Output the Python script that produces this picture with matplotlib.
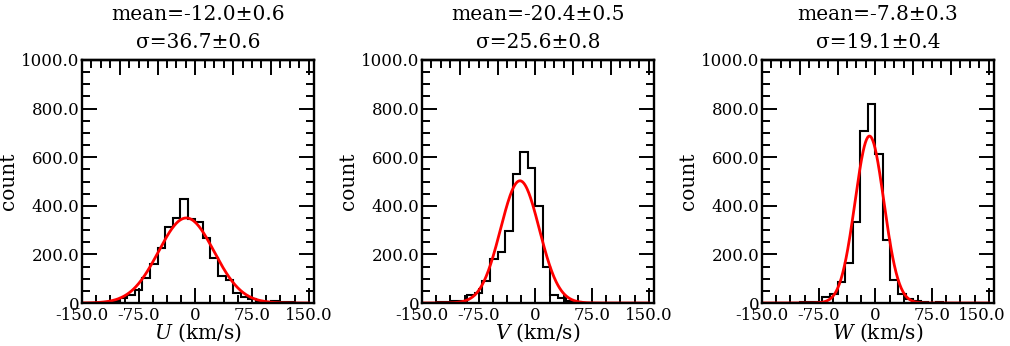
import numpy as np
import matplotlib.pyplot as plt
from matplotlib.ticker import FixedLocator, MultipleLocator
from matplotlib.transforms import ScaledTranslation

plt.rcParams['font.family'] = 'DejaVu Serif'
plt.rcParams['mathtext.fontset'] = 'dejavuserif'

# --- data ---
bin_edges = np.arange(-150, 151, 10)

u_counts = [0, 1, 2, 4, 8, 22, 32, 55, 102, 161, 226, 314, 348, 430, 346,
            335, 268, 185, 113, 95, 40, 26, 15, 8, 5, 9, 5, 4, 2, 0]
v_counts = [0, 1, 3, 5, 7, 10, 33, 43, 89, 182, 211, 298, 531, 623, 554,
            400, 149, 33, 19, 8, 3, 1, 0, 0, 0, 0, 0, 0, 0, 0]
w_counts = [0, 0, 1, 1, 2, 4, 3, 6, 23, 36, 88, 166, 332, 707, 819,
            613, 258, 95, 36, 16, 7, 4, 2, 6, 1, 0, 0, 0, 0, 0]

# gaussian fits: mean, sigma, peak height
fit_mean = [-12.0, -20.4, -7.8]
fit_sigma = [36.7, 25.6, 19.1]
fit_peak = [350, 503, 687]

mean_txt = ['mean=-12.0\u00b10.6', 'mean=-20.4\u00b10.5', 'mean=-7.8\u00b10.3']
sigma_txt = ['\u03c3=36.7\u00b10.6', '\u03c3=25.6\u00b10.8', '\u03c3=19.1\u00b10.4']
x_names = ['$U$ (km/s)', '$V$ (km/s)', '$W$ (km/s)']

x_tick_vals = [-150, -75, 0, 75, 150]
x_tick_labels = ['-150.0', '-75.0', '0', '75.0', '150.0']
y_tick_vals = [0, 200, 400, 600, 800, 1000]
y_tick_labels = ['0', '200.0', '400.0', '600.0', '800.0', '1000.0']

# --- layout ---
W, H = 1010, 346
fig = plt.figure(figsize=(W / 100, H / 100), dpi=100)
lefts = [82, 422, 762]
ax_w, ax_h, ax_bottom = 232, 243, 43

LW_AX = 1.7
TICK_FS = 12
TEXT_FS = 14.5

all_counts = [u_counts, v_counts, w_counts]
xs = np.linspace(-150, 150, 400)
axes = []

for i in range(3):
    ax = fig.add_axes([lefts[i] / W, ax_bottom / H, ax_w / W, ax_h / H])
    axes.append(ax)

    ax.stairs(all_counts[i], bin_edges, color='black', lw=1.5, baseline=0)
    g = fit_peak[i] * np.exp(-0.5 * ((xs - fit_mean[i]) / fit_sigma[i]) ** 2)
    ax.plot(xs, g, color='red', lw=2.0)

    ax.set_xlim(-150, 157)
    ax.set_ylim(0, 1000)

    # bottom / left / right ticks
    ax.xaxis.set_major_locator(FixedLocator(x_tick_vals))
    ax.set_xticklabels(x_tick_labels)
    ax.xaxis.set_minor_locator(MultipleLocator(18.75))
    ax.yaxis.set_major_locator(FixedLocator(y_tick_vals))
    ax.set_yticklabels(y_tick_labels)
    ax.yaxis.set_minor_locator(MultipleLocator(50))
    ax.tick_params(which='both', direction='in', top=False, right=True,
                   width=1.4, labelsize=TICK_FS)
    ax.tick_params(which='major', length=11)
    ax.tick_params(which='minor', length=5.5)
    ax.tick_params(axis='x', pad=3)
    ax.tick_params(axis='y', pad=2)

    # top axis has its own spacing
    sec = ax.secondary_xaxis('top')
    sec.xaxis.set_major_locator(MultipleLocator(50))
    sec.xaxis.set_minor_locator(MultipleLocator(12.5))
    sec.tick_params(which='both', direction='in', labeltop=False, width=1.4)
    sec.tick_params(which='major', length=11)
    sec.tick_params(which='minor', length=6)
    sec.spines['top'].set_linewidth(LW_AX)

    for s in ax.spines.values():
        s.set_linewidth(LW_AX)

    ax.text(0.5, 1.189, mean_txt[i], transform=ax.transAxes,
            ha='center', va='center', fontsize=TEXT_FS)
    ax.text(0.5, 1.074, sigma_txt[i], transform=ax.transAxes,
            ha='center', va='center', fontsize=TEXT_FS)
    ax.text(0.5, -0.123, x_names[i], transform=ax.transAxes,
            ha='center', va='center', fontsize=TEXT_FS)
    ax.text(-0.315, 0.5, 'count', transform=ax.transAxes, rotation=90,
            ha='center', va='center', fontsize=TEXT_FS)

# last label of the right panel sits a little left so it stays inside
fig.canvas.draw()
last = axes[2].get_xticklabels()[-1]
last.set_transform(last.get_transform()
                   + ScaledTranslation(-7 / 100, 0, fig.dpi_scale_trans))

fig.savefig('out.png', dpi=100)
